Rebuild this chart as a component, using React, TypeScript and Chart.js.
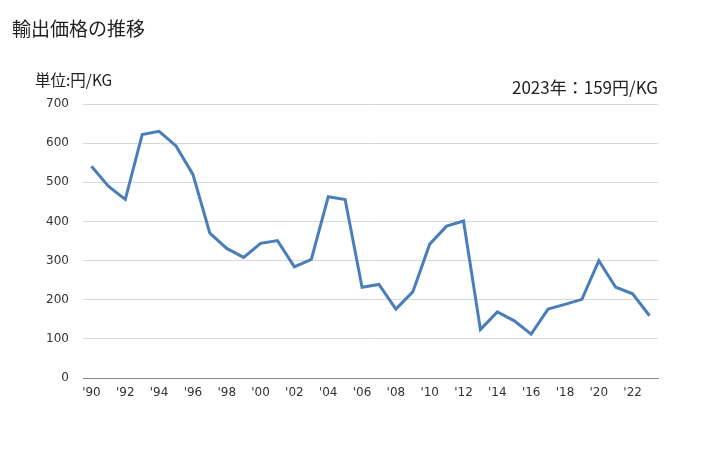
import React, { useEffect, useRef } from "react";
import { Chart, registerables } from "chart.js";

Chart.register(...registerables);

const years = [
  "1990","1991","1992","1993","1994","1995","1996","1997","1998","1999",
  "2000","2001","2002","2003","2004","2005","2006","2007","2008","2009",
  "2010","2011","2012","2013","2014","2015","2016","2017","2018","2019",
  "2020","2021","2022","2023",
];
const prices = [
  541, 490, 456, 622, 630, 593, 520, 370, 331, 308,
  344, 351, 284, 303, 463, 456, 232, 239, 176, 220,
  342, 388, 401, 124, 169, 146, 112, 176, 188, 201,
  300, 232, 215, 159,
];
const yTicks = [0, 100, 200, 300, 400, 500, 600, 700];
const titleText = "輸出価格の推移";
const unitText = "単位:円/KG";
const latestText = "2023年：159円/KG";

export default function App() {
  const ref = useRef<HTMLCanvasElement | null>(null);
  useEffect(() => {
    if (!ref.current) return;
    const chart = new Chart(ref.current, {
      type: "line",
      data: {
        labels: years,
        datasets: [
          {
            data: prices,
            borderColor: "#4a7ebb",
            borderWidth: 3,
            pointRadius: 0,
            tension: 0,
            fill: false,
          },
        ],
      },
      options: {
        animation: false,
        responsive: false,
        maintainAspectRatio: false,
        layout: { padding: { left: 0, right: 70, top: 104, bottom: 30 } },
        plugins: { legend: { display: false }, tooltip: { enabled: false }, title: { display: false } },
        scales: {
          x: {
            offset: true,
            grid: { display: false, drawTicks: false },
            border: { display: true, color: "#898989", width: 1 },
            ticks: {
              autoSkip: false,
              maxRotation: 0,
              padding: 8,
              color: "#333",
              font: { family: "DejaVu Sans", size: 12 },
              callback: (_v: any, i: number) => (i % 2 === 0 ? "'" + years[i].slice(2) : ""),
            },
            afterFit: (s: any) => { s.height = 42; },
          },
          y: {
            min: 0,
            max: 700,
            afterBuildTicks: (s: any) => { s.ticks = yTicks.map((v) => ({ value: v })); },
            grid: { color: "#d9d9d9", drawTicks: false, lineWidth: 1 },
            border: { display: false },
            ticks: {
              padding: 14,
              color: "#333",
              font: { family: "DejaVu Sans", size: 12 },
            },
            afterFit: (s: any) => { s.width = 83; },
          },
        },
      },
    });
    return () => chart.destroy();
  }, []);
  return (
    <div style={{ position: "absolute", left: 0, top: 0, width: 728, height: 450, background: "#fff", fontFamily: "'Noto Sans CJK JP', sans-serif", color: "#222" }}>
      <canvas ref={ref} width={728} height={450} style={{ position: "absolute", left: 0, top: 0 }} />
      <div style={{ position: "absolute", left: 12, top: 14, fontSize: 19, lineHeight: "28px" }}>{titleText}</div>
      <div style={{ position: "absolute", left: 35, top: 68, fontSize: 15.5, lineHeight: "22px" }}>{unitText}</div>
      <div style={{ position: "absolute", right: 70, top: 76, fontSize: 17, lineHeight: "22px" }}>{latestText}</div>
    </div>
  );
}
